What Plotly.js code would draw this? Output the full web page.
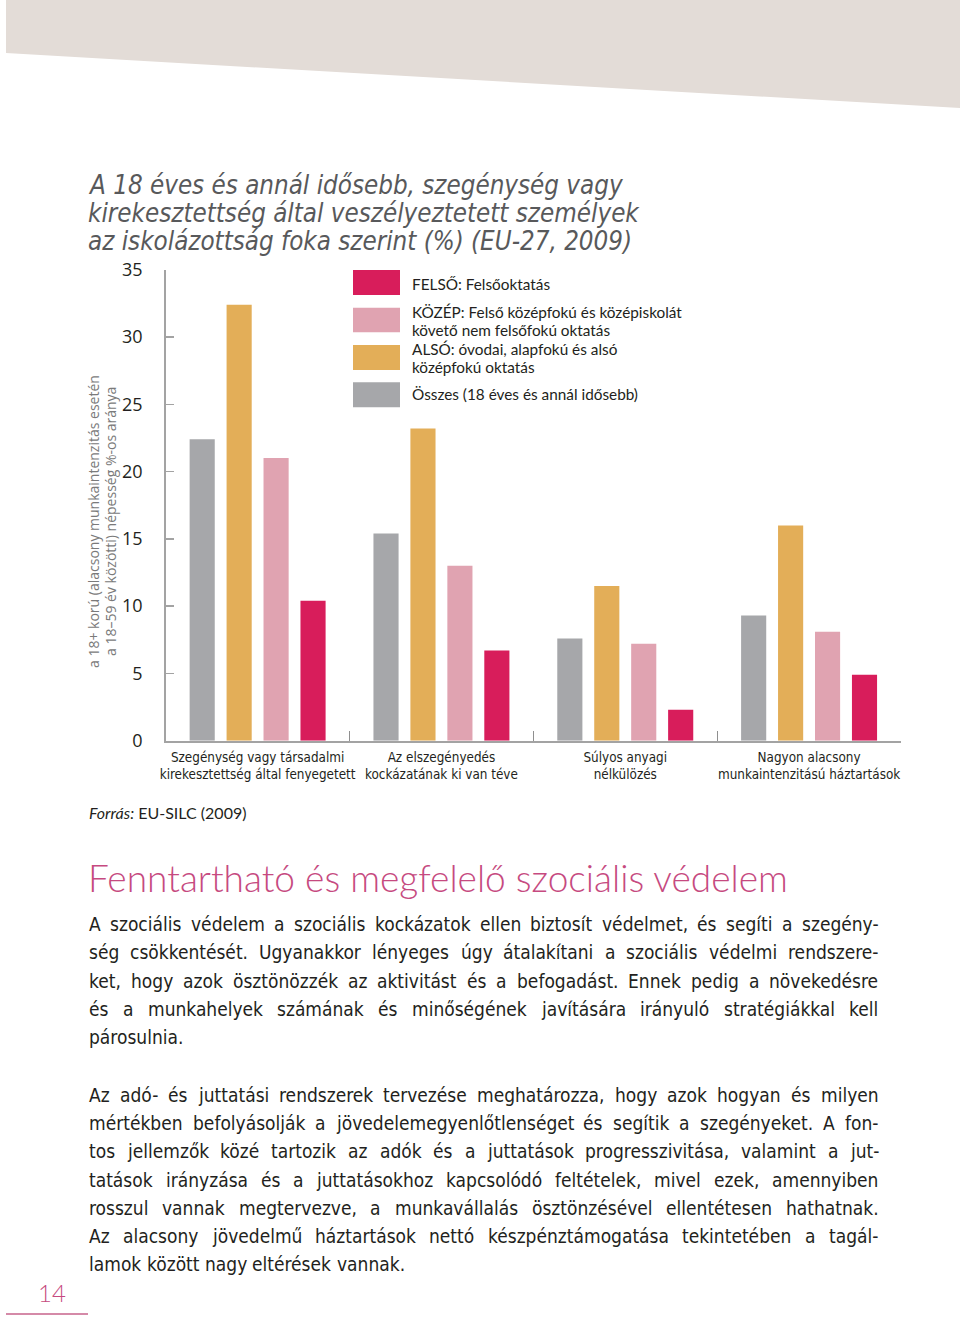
<!DOCTYPE html>
<html>
<head>
<meta charset="utf-8">
<script src="https://cdn.plot.ly/plotly-3.0.1.min.js"></script>
<style>
  html, body { margin: 0; padding: 0; background: #ffffff; }
  #chart { width: 960px; height: 1318px; }
</style>
</head>
<body>
<div id="chart"></div>
<script>
// ---------- DATA ----------
const categories = [
  "Szegénység vagy társadalmi<br>kirekesztettség által fenyegetett",
  "Az elszegényedés<br>kockázatának ki van téve",
  "Súlyos anyagi<br>nélkülözés",
  "Nagyon alacsony<br>munkaintenzitású háztartások"
];
const osszes = [22.4, 15.4, 7.6, 9.3];   // Összes (18 éves és annál idősebb)
const also   = [32.4, 23.2, 11.5, 16.0]; // ALSÓ
const kozep  = [21.0, 13.0, 7.2, 8.1];   // KÖZÉP
const felso  = [10.4, 6.7, 2.3, 4.9];    // FELSŐ

const seriesNames = ["Összes (18 éves és annál idősebb)", "ALSÓ", "KÖZÉP", "FELSŐ"];
const seriesColors = ["#a6a7aa", "#e3ae58", "#e0a3b1", "#d81d5b"];

const yTicks = [0, 5, 10, 15, 20, 25, 30, 35];

const legendLines = [
  ["FELSŐ: Felsőoktatás"],
  ["KÖZÉP: Felső középfokú és középiskolát", "követő nem felsőfokú oktatás"],
  ["ALSÓ: óvodai, alapfokú és alsó", "középfokú oktatás"],
  ["Összes (18 éves és annál idősebb)"]
];
const legendColors = ["#d81d5b", "#e0a3b1", "#e3ae58", "#a6a7aa"];

const titleLines = [
  "A 18 éves és annál idősebb, szegénység vagy",
  "kirekesztettség által veszélyeztetett személyek",
  "az iskolázottság foka szerint (%) (EU-27, 2009)"
];
const yTitleLines = [
  "a 18+ korú (alacsony munkaintenzitás esetén",
  "a 18–59 év közötti) népesség %-os aránya"
];
const sourceText = "<i>Forrás:</i> EU-SILC (2009)";
const heading = "Fenntartható és megfelelő szociális védelem";
const para1 = [
  "A szociális védelem a szociális kockázatok ellen biztosít védelmet, és segíti a szegény-",
  "ség csökkentését. Ugyanakkor lényeges úgy átalakítani a szociális védelmi rendszere-",
  "ket, hogy azok ösztönözzék az aktivitást és a befogadást. Ennek pedig a növekedésre",
  "és a munkahelyek számának és minőségének javítására irányuló stratégiákkal kell",
  "párosulnia."
];
const para2 = [
  "Az adó- és juttatási rendszerek tervezése meghatározza, hogy azok hogyan és milyen",
  "mértékben befolyásolják a jövedelemegyenlőtlenséget és segítik a szegényeket. A fon-",
  "tos jellemzők közé tartozik az adók és a juttatások progresszivitása, valamint a jut-",
  "tatások irányzása és a juttatásokhoz kapcsolódó feltételek, mivel ezek, amennyiben",
  "rosszul vannak megtervezve, a munkavállalás ösztönzésével ellentétesen hathatnak.",
  "Az alacsony jövedelmű háztartások nettó készpénztámogatása tekintetében a tagál-",
  "lamok között nagy eltérések vannak."
];
const pageNumber = "14";

// ---------- HELPERS ----------
const W = 960, H = 1318;
const X = p => p / W;
const Y = p => 1 - p / H;
const NARROW = "'Liberation Sans Narrow', 'DejaVu Sans Condensed', 'Arial Narrow', sans-serif";
const SANS = "Lato, 'Open Sans', 'Noto Sans', sans-serif";
const OPEN = "'Open Sans', 'Noto Sans', sans-serif";
const DARK = "#231f20";
const PINK = "#c64a80";

const cv = document.createElement('canvas');
const ctx = cv.getContext('2d');
function measure(text, size, family, weight, style) {
  ctx.font = (style || 'normal') + ' ' + (weight || 'normal') + ' ' + size + 'px ' + family;
  return ctx.measureText(text).width;
}
function fitSize(text, target, family, weight, style) {
  return 100 * target / measure(text, 100, family, weight, style);
}
function ann(text, x, y, font, extra) {
  return Object.assign({
    text: text, x: X(x), y: Y(y), xref: 'paper', yref: 'paper',
    xanchor: 'left', yanchor: 'middle', showarrow: false,
    borderpad: 0, borderwidth: 0, font: font
  }, extra || {});
}

const annotations = [];
const shapes = [];

// top band
shapes.push({
  type: 'path', xref: 'paper', yref: 'paper',
  path: `M ${X(6)} ${Y(0)} L ${X(960)} ${Y(0)} L ${X(960)} ${Y(108)} L ${X(6)} ${Y(53)} Z`,
  fillcolor: '#e3dcd7', line: { width: 0 }
});

// chart title
const titleSize = fitSize(titleLines[1], 551, NARROW, 'normal', 'italic');
const titleYs = [185, 213, 241];
titleLines.forEach((t, i) => {
  annotations.push(ann(t, 88, titleYs[i], { family: NARROW, size: titleSize, color: '#58595b', style: 'italic' }));
});

// y axis title (rotated)
const yTitleSize = Math.min(14, fitSize(yTitleLines[0], 320, OPEN));
[93, 110].forEach((xx, i) => {
  annotations.push(ann(yTitleLines[i], xx, 522, { family: OPEN, size: yTitleSize, color: '#7a7a7a' },
    { textangle: -90, xanchor: 'center' }));
});

// legend
const legSize = Math.min(16, fitSize(legendLines[1][0], 270, SANS));
const legRects = [[270, 295], [307.7, 332.3], [345, 370], [382.3, 407.3]];
const legTextYs = [[284], [312, 330], [349, 367], [394]];
legendLines.forEach((lines, i) => {
  shapes.push({
    type: 'rect', xref: 'paper', yref: 'paper',
    x0: X(353), x1: X(400), y0: Y(legRects[i][1]), y1: Y(legRects[i][0]),
    fillcolor: legendColors[i], line: { width: 0 }
  });
  lines.forEach((t, j) => {
    annotations.push(ann(t, 412, legTextYs[i][j], { family: SANS, size: legSize, color: DARK }));
  });
});

// source
annotations.push(ann(sourceText, 89, 812, { family: SANS, size: 16, color: DARK }));

// heading
const headSize = fitSize(heading, 701, SANS, 300);
annotations.push(ann(heading, 88, 877, { family: SANS, size: headSize, color: PINK, weight: 300 }));

// justified paragraphs
const LEFT = 89, RIGHT = 878.5;
function paragraph(lines, y0, step) {
  let size = 19;
  const natural = Math.max(...lines.map(l => measure(l, size, NARROW)));
  if (natural > (RIGHT - LEFT) - 4) size = size * ((RIGHT - LEFT) - 4) / natural;
  const spaceW = measure(' ', size, NARROW);
  lines.forEach((line, i) => {
    const y = y0 + i * step;
    const words = line.split(' ');
    const widths = words.map(w => measure(w, size, NARROW));
    const total = widths.reduce((a, b) => a + b, 0);
    const last = (i === lines.length - 1);
    const gap = (last || words.length < 2) ? spaceW : ((RIGHT - LEFT) - total) / (words.length - 1);
    let x = LEFT;
    words.forEach((w, k) => {
      annotations.push(ann(w, x, y, { family: NARROW, size: size, color: DARK }));
      x += widths[k] + gap;
    });
  });
}
paragraph(para1, 924, 28.25);
paragraph(para2, 1095, 28.17);

// page number and line
annotations.push(ann(pageNumber, 52, 1292, { family: SANS, size: 24, color: PINK, weight: 300 }, { xanchor: 'center' }));
shapes.push({
  type: 'line', xref: 'paper', yref: 'paper',
  x0: X(6), x1: X(88), y0: Y(1314), y1: Y(1314),
  line: { color: '#d58aa8', width: 2 }
});

// ---------- TRACES ----------
const seriesValues = [osszes, also, kozep, felso];
const traces = seriesValues.map((vals, i) => ({
  type: 'bar', x: categories, y: vals, name: seriesNames[i],
  marker: { color: seriesColors[i], line: { width: 0 } },
  hoverinfo: 'none'
}));

const xTickSize = Math.min(16, fitSize("kirekesztettség által fenyegetett", 196, NARROW));

const layout = {
  width: W, height: H,
  margin: { l: 0, r: 0, t: 0, b: 0 },
  paper_bgcolor: '#ffffff', plot_bgcolor: 'rgba(0,0,0,0)',
  showlegend: false,
  barmode: 'group', bargap: 0.196, bargroupgap: 0.32,
  xaxis: {
    domain: [X(165.7), X(901)],
    type: 'category',
    showline: true, linecolor: '#a3a3a3', linewidth: 2,
    ticks: 'inside', tickson: 'boundaries', ticklen: 10, tickcolor: '#8f8f8f', tickwidth: 1.2,
    showgrid: false, zeroline: false,
    tickangle: 0,
    tickfont: { family: NARROW, size: xTickSize, color: DARK },
    ticklabelstandoff: 3,
    fixedrange: true
  },
  yaxis: {
    domain: [Y(740.7), Y(269.7)],
    range: [0, 35],
    tickvals: yTicks,
    ticktext: yTicks.map(String),
    showline: true, linecolor: '#a3a3a3', linewidth: 1.5,
    ticks: 'inside', ticklen: 8, tickcolor: '#a3a3a3', tickwidth: 1.5,
    showgrid: false, zeroline: false,
    tickfont: { family: OPEN, size: 18, color: DARK },
    ticklabelstandoff: 18,
    fixedrange: true
  },
  shapes: shapes,
  annotations: annotations
};

Plotly.newPlot('chart', traces, layout, { displayModeBar: false, staticPlot: true });
</script>
</body>
</html>
